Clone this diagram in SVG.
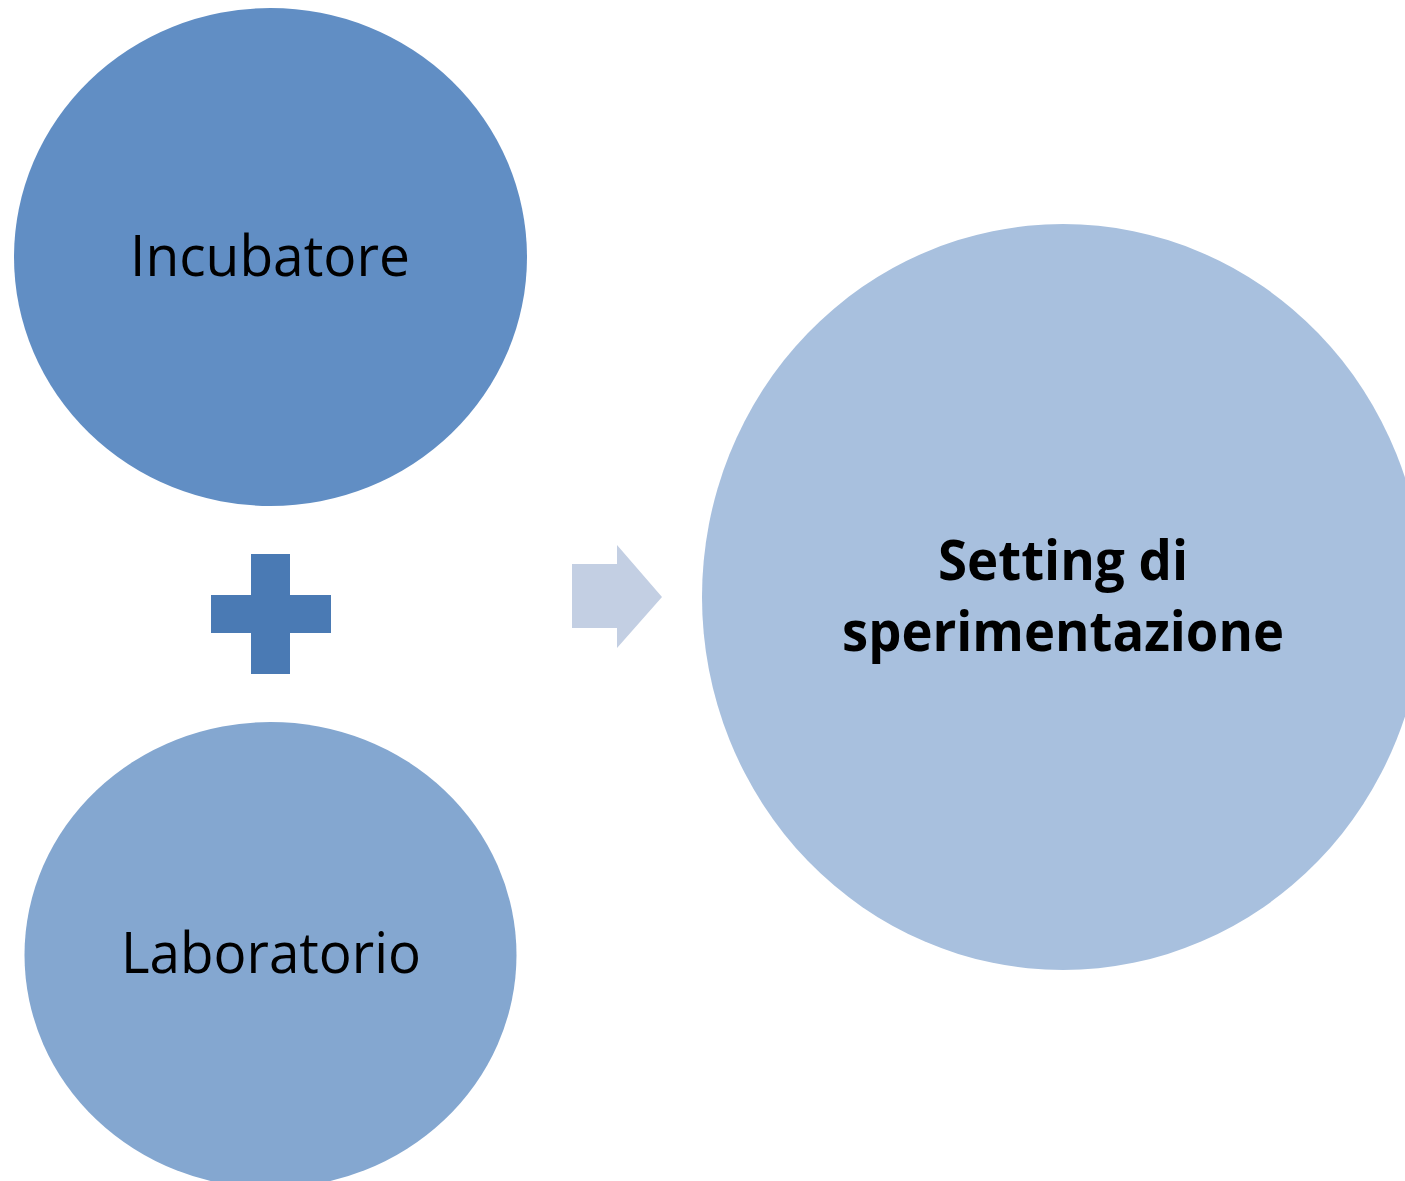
<svg xmlns="http://www.w3.org/2000/svg" width="1405" height="1181" viewBox="0 0 1405 1181">
<style>
.t{font-family:"Open Sans","Liberation Sans",sans-serif;fill:#000;text-anchor:middle}
.r{font-size:56px}
.b{font-size:56px;font-weight:bold}
</style>
<rect width="1405" height="1181" fill="#fff"/>
<g id="node-incubatore">
<ellipse cx="270.5" cy="257" rx="256.5" ry="249" fill="#618EC4"/>
<text class="t r" x="270" y="276" textLength="280" lengthAdjust="spacingAndGlyphs">Incubatore</text>
</g>
<g id="node-plus">
<path d="M251,554H290V595H331V633H290V674H251V633H211V595H251Z" fill="#4A7AB4"/>
</g>
<g id="node-laboratorio">
<ellipse cx="270.5" cy="955" rx="246" ry="233" fill="#84A7D0"/>
<text class="t r" x="271" y="973" textLength="300" lengthAdjust="spacingAndGlyphs">Laboratorio</text>
</g>
<g id="connectors">
<path d="M572,564H617V545L662,597L617,648V628H572Z" fill="#C3CFE3"/>
</g>
<g id="node-setting">
<ellipse cx="1063" cy="597" rx="361" ry="373" fill="#A8C0DE"/>
<text class="t b" x="1063" y="580" textLength="250" lengthAdjust="spacingAndGlyphs">Setting di</text>
<text class="t b" x="1063" y="651" textLength="442" lengthAdjust="spacingAndGlyphs">sperimentazione</text>
</g>
</svg>
